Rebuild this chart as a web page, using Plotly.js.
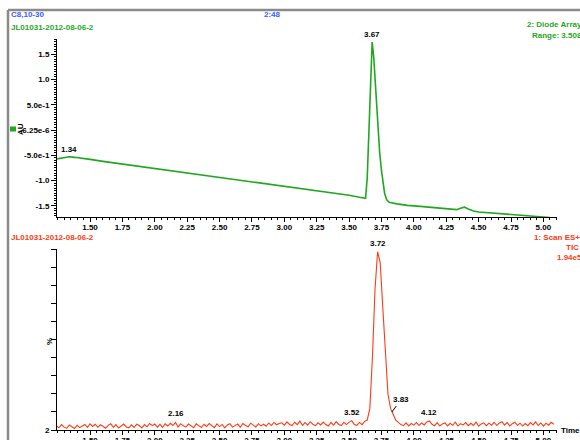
<!DOCTYPE html>
<html>
<head>
<meta charset="utf-8">
<script src="https://cdn.plot.ly/plotly-3.0.1.min.js"></script>
<style>html,body{margin:0;padding:0;background:#fff;}#chart{width:580px;height:440px;}</style>
</head>
<body>
<div id="chart"></div>
<script>
// ---- Diode array (AU) trace ----
var daTime = [1.245,1.28,1.31,1.34,1.38,1.45,1.50,1.60,1.70,1.80,1.90,2.00,2.10,2.20,2.30,2.40,2.50,2.60,2.70,2.80,2.90,3.00,3.10,3.20,3.30,3.40,3.50,3.58,3.627,3.64,3.655,3.668,3.678,3.69,3.705,3.72,3.736,3.75,3.761,3.774,3.79,3.81,3.87,3.95,4.05,4.15,4.25,4.33,4.36,4.39,4.42,4.46,4.50,4.60,4.70,4.80,4.90,5.00,5.05];
var daAU   = [-0.57,-0.55,-0.535,-0.53,-0.54,-0.56,-0.58,-0.62,-0.655,-0.69,-0.73,-0.765,-0.80,-0.835,-0.87,-0.905,-0.94,-0.975,-1.01,-1.045,-1.08,-1.115,-1.15,-1.185,-1.22,-1.255,-1.29,-1.33,-1.35,-0.95,0.10,1.00,1.74,1.45,0.75,0.10,-0.45,-0.80,-1.00,-1.25,-1.38,-1.43,-1.46,-1.49,-1.51,-1.53,-1.555,-1.575,-1.545,-1.525,-1.56,-1.60,-1.62,-1.64,-1.66,-1.68,-1.70,-1.72,-1.73];

// ---- TIC (%) trace, sampled from 1.24 min every 0.02 min ----
var ticStart = 1.24, ticStep = 0.02;
var ticPct = [
 2.4,1.2,3.0,1.6,0.9,2.8,1.8,0.8,2.6,1.3,
 2.2,3.1,1.4,3.4,2.0,3.2,1.5,2.9,2.1,1.0,
 2.6,3.5,1.5,3.0,1.1,2.4,3.3,1.7,1.2,2.9,
 1.4,3.2,2.5,1.1,3.0,1.8,3.6,2.4,3.3,1.6,
 3.1,1.4,3.4,2.2,3.7,2.5,4.2,1.7,3.5,2.3,
 1.6,3.3,2.4,1.3,3.5,2.6,1.4,3.2,2.0,3.6,
 2.4,1.3,3.4,1.9,3.1,1.2,2.8,3.5,1.6,2.5,
 3.3,1.5,3.6,2.6,1.8,3.8,2.7,1.7,3.5,2.3,
 3.2,2.1,3.9,2.5,4.2,2.9,3.6,4.0,2.7,4.5,
 3.1,2.5,4.3,3.0,5.0,2.6,4.1,2.7,4.6,3.2,
 2.4,4.0,2.8,4.4,3.0,2.2,4.2,2.7,4.6,3.1,
 2.5,4.3,3.0,4.4,5.2,3.1,2.6,4.2,3.0,4.8,
 5.5,12,40,78,99,93,68,40,20,12,
 9,5.5,4.2,3.0,2.4,4.0,2.3,3.6,2.7,4.1,
 2.5,3.9,2.8,4.5,5.0,3.2,2.4,4.1,2.2,3.4,
 3.9,2.3,3.7,2.6,4.3,2.2,3.5,2.8,4.1,2.4,
 3.7,2.5,4.4,2.1,3.4,4.0,2.4,3.8,2.7,4.3,
 2.5,3.9,4.6,2.7,4.1,2.3,3.5,4.3,2.5,3.8,
 2.2,3.6,2.4,4.1,2.8,4.5,2.5,3.9,2.2,3.8,
 2.7,4.3,3.2
];

// peak labels
var daPeakT = [1.34, 3.678], daPeakY = [-0.53, 1.74], daPeakTxt = ['1.34','3.67'];
var ticPeakT = [2.16, 3.725, 3.52, 4.12], ticPeakY = [4.2, 99, 5.2, 5.0], ticPeakTxt = ['2.16','3.72','3.52','4.12'];
var ticLeadT = 3.83, ticLeadY = 10, ticLeadTxt = '3.83';

var xTickVals = [1.50,1.75,2.00,2.25,2.50,2.75,3.00,3.25,3.50,3.75,4.00,4.25,4.50,4.75,5.00];
var yTopVals = [-1.5,-1.0,-0.5,0,0.5,1.0,1.5];
var yTopText = ['-1.5','-1.0','-5.0e-1','-6.25e-6','5.0e-1','1.0','1.5'];
var yBotVals = [0,10,20,30,40,50,60,70,80,90,100];
var yBotText = ['2','','','','','','','','','',''];

var W = 580, H = 440;
var FONT = 'Liberation Sans, Arial, sans-serif';
var GREEN = '#1fa81f', RED = '#ff3a14', BLUE = '#3a5cff';
function px(x){return x/W;}
function py(y){return 1-y/H;}

var tf = {family: FONT, size: 8, color: '#000', weight: 'bold'};
var xCommon = {
  domain: [px(57), px(557)], range: [1.245, 5.105],
  showline: true, linecolor: '#000', linewidth: 1, mirror: false,
  ticks: 'outside', ticklen: 4, tickcolor: '#000', tickwidth: 1,
  tickmode: 'array', tickvals: xTickVals, tickformat: '.2f', ticklabelstandoff: -2,
  minor: {tickmode: 'linear', tick0: 1.5, dtick: 0.05, ticks: 'outside', ticklen: 2, tickcolor: '#000'},
  showgrid: false, zeroline: false, tickfont: tf, fixedrange: true
};

var traces = [
  {x: daTime, y: daAU, type: 'scatter', mode: 'lines', line: {color: GREEN, width: 1.6}, xaxis: 'x', yaxis: 'y', hoverinfo: 'skip'},
  {y: ticPct, x0: ticStart, dx: ticStep, type: 'scatter', mode: 'lines', line: {color: RED, width: 1.1}, xaxis: 'x2', yaxis: 'y2', hoverinfo: 'skip'}
];

var ann = [];
function txt(t, x, y, color, anchor, extra){
  var a = {text: t, x: px(x), y: py(y), xref: 'paper', yref: 'paper', showarrow: false,
    xanchor: anchor || 'left', yanchor: 'middle', font: {family: FONT, size: 8, color: color, weight: 'bold'}};
  for (var k in (extra||{})) a[k] = extra[k];
  ann.push(a);
}
txt('C8,10-30', 9, 15, BLUE, 'left');
txt('2:48', 262, 15, BLUE, 'left');
txt('JL01031-2012-08-06-2', 9, 27, GREEN, 'left');
txt('2: Diode Array', 584, 25, GREEN, 'right');
txt('Range: 3.508', 584, 35, GREEN, 'right');
txt('JL01031-2012-08-06-2', 9, 237, RED, 'left');
txt('1: Scan ES+', 582, 237, RED, 'right');
txt('TIC', 581, 247, RED, 'right');
txt('1.94e5', 584, 257, RED, 'right');
txt('AU', 20, 129, '#000', 'center', {textangle: -90});
txt('%', 49, 342, '#000', 'center', {textangle: -90});
txt('Time', 559, 430, '#000', 'left');

for (var i = 0; i < daPeakT.length; i++) {
  ann.push({text: daPeakTxt[i], x: daPeakT[i], y: daPeakY[i], xref: 'x', yref: 'y', showarrow: false,
    xanchor: 'center', yanchor: 'bottom', yshift: 1, font: {family: FONT, size: 8, color: '#000', weight: 'bold'}});
}
for (var j = 0; j < ticPeakT.length; j++) {
  ann.push({text: ticPeakTxt[j], x: ticPeakT[j], y: ticPeakY[j], xref: 'x2', yref: 'y2', showarrow: false,
    xanchor: 'center', yanchor: 'bottom', yshift: 2, font: {family: FONT, size: 8, color: '#000', weight: 'bold'}});
}
ann.push({text: ticLeadTxt, x: ticLeadT, y: ticLeadY, xref: 'x2', yref: 'y2', showarrow: true,
  arrowhead: 0, arrowwidth: 1, arrowcolor: '#000', ax: 9, ay: -12, standoff: 0,
  font: {family: FONT, size: 8, color: '#000', weight: 'bold'}});

var shapes = [
  {type: 'line', xref: 'paper', yref: 'paper', x0: px(8), x1: 1, y0: py(10), y1: py(10), line: {color: '#8a8a8a', width: 2.5}},
  {type: 'line', xref: 'paper', yref: 'paper', x0: px(8), x1: px(8), y0: py(10), y1: 0, line: {color: '#8a8a8a', width: 2.5}},
  {type: 'rect', xref: 'paper', yref: 'paper', x0: px(10), x1: px(16), y0: py(131.5), y1: py(126.5), fillcolor: GREEN, line: {width: 0}}
];

var layout = {
  width: W, height: H, margin: {l: 0, r: 0, t: 0, b: 0},
  paper_bgcolor: '#fff', plot_bgcolor: '#fff', showlegend: false,
  font: {family: FONT, size: 8, color: '#000'},
  xaxis: Object.assign({}, xCommon, {anchor: 'y'}),
  yaxis: {domain: [py(217), py(39)], range: [-1.72, 1.80], anchor: 'x',
    showline: true, linecolor: '#000', linewidth: 1, ticks: 'outside', ticklen: 5, tickcolor: '#000',
    tickmode: 'array', tickvals: yTopVals, ticktext: yTopText,
    minor: {tickmode: 'linear', tick0: 0, dtick: 0.05, ticks: 'outside', ticklen: 2, tickcolor: '#000'},
    showgrid: false, zeroline: false, tickfont: tf, fixedrange: true},
  xaxis2: Object.assign({}, xCommon, {anchor: 'y2'}),
  yaxis2: {domain: [py(430), py(249)], range: [0, 100.5], anchor: 'x2',
    showline: true, linecolor: '#000', linewidth: 1, ticks: 'outside', ticklen: 5, tickcolor: '#000',
    tickmode: 'array', tickvals: yBotVals, ticktext: yBotText,
    showgrid: false, zeroline: false, tickfont: tf, fixedrange: true},
  annotations: ann, shapes: shapes
};

Plotly.newPlot('chart', traces, layout, {staticPlot: true, displayModeBar: false});
</script>
</body>
</html>
